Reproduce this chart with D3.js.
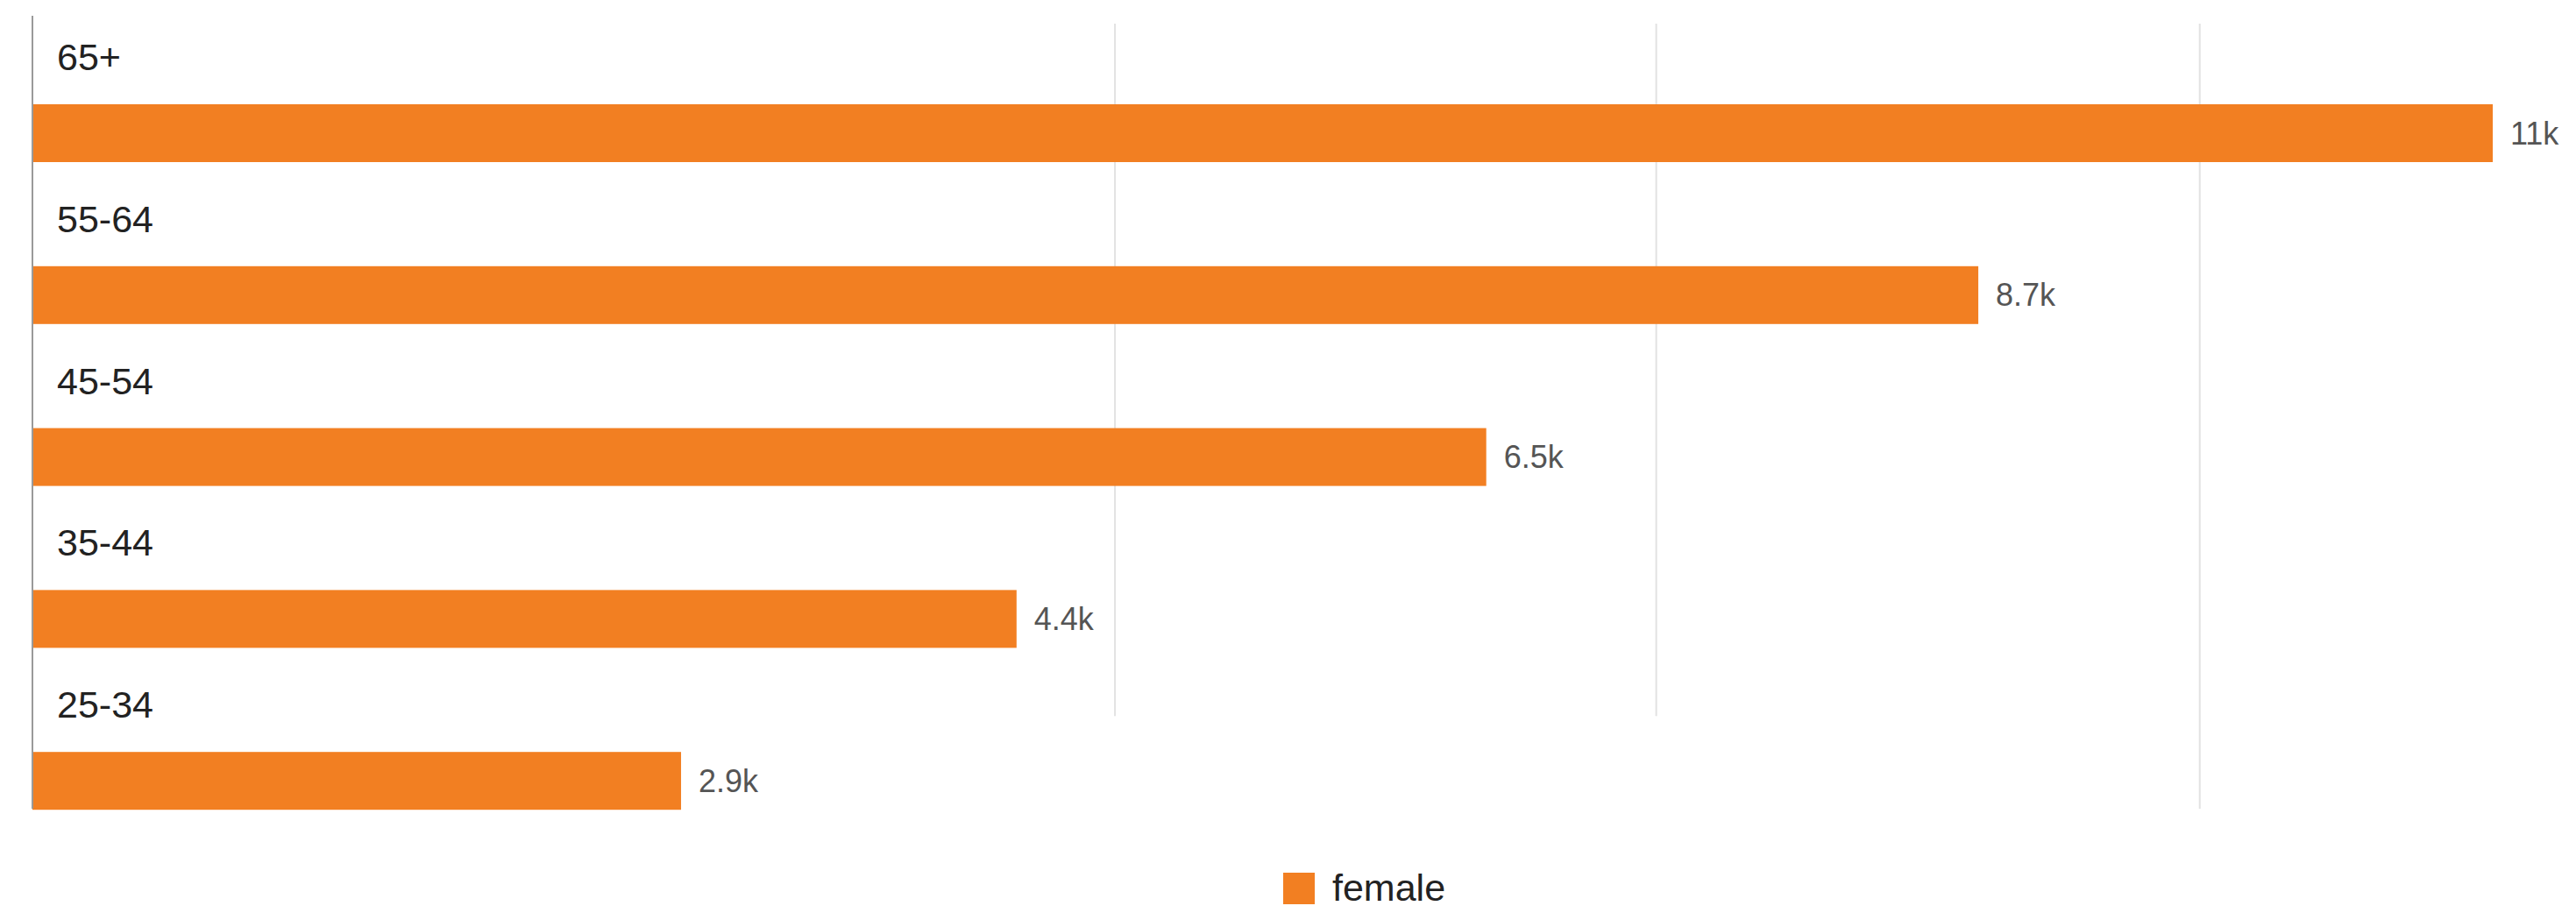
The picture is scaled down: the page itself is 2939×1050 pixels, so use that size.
<!DOCTYPE html>
<html>
<head>
<meta charset="utf-8">
<script src="https://cdn.jsdelivr.net/npm/d3@7"></script>
<style>
  html, body { margin: 0; padding: 0; background: #ffffff; }
  svg { display: block; font-family: "Liberation Sans", Arial, sans-serif; }
</style>
</head>
<body>
<svg id="chart" width="2939" height="1050"></svg>
<script>
// Age groups, top to bottom
const categories = ["65+", "55-64", "45-54", "35-44", "25-34"];
// Female counts per age group
const femaleValues = [11000, 8700, 6500, 4400, 2900];
// Vertical gridline positions on the value axis
const gridValues = [4840, 7260, 9690];
const seriesName = "female";

const barColor = "#f27f22";
const svg = d3.select("#chart");

const x = d3.scaleLinear().domain([0, 11000]).range([37, 2844]);
const y = d3.scaleBand().domain(categories).range([34, 958]).padding(0);

const barOffset = 85, barHeight = 66, labelOffset = 46;
const plotTop = 18, plotBottom = 923, gridTop = 27;

// gridlines
svg.append("g").selectAll("line")
  .data(gridValues)
  .join("line")
  .attr("x1", d => x(d)).attr("x2", d => x(d))
  .attr("y1", gridTop)
  .attr("y2", (d, i) => i === gridValues.length - 1 ? plotBottom : y(categories[categories.length - 1]) + labelOffset - 2)
  .attr("stroke", "#e2e2e2")
  .attr("stroke-width", 2);

// bars
const rows = categories.map((c, i) => ({ cat: c, value: femaleValues[i] }));
svg.append("g").selectAll("rect")
  .data(rows)
  .join("rect")
  .attr("x", x(0))
  .attr("y", d => y(d.cat) + barOffset)
  .attr("width", d => x(d.value) - x(0))
  .attr("height", barHeight)
  .attr("fill", barColor);

// baseline axis
svg.append("line")
  .attr("x1", x(0)).attr("x2", x(0))
  .attr("y1", plotTop).attr("y2", plotBottom)
  .attr("stroke", "#9a9a9a")
  .attr("stroke-width", 2);

// category labels above each bar
svg.append("g").selectAll("text")
  .data(rows)
  .join("text")
  .attr("x", 65)
  .attr("y", d => y(d.cat) + labelOffset)
  .attr("font-size", 43)
  .attr("fill", "#222")
  .text(d => d.cat);

// value labels at bar ends
const fmt = d3.format(".2s");
svg.append("g").selectAll("text")
  .data(rows)
  .join("text")
  .attr("x", d => x(d.value) + 20)
  .attr("y", d => y(d.cat) + barOffset + barHeight / 2)
  .attr("dominant-baseline", "central")
  .attr("font-size", 36)
  .attr("fill", "#555")
  .text(d => fmt(d.value));

// legend
const legend = svg.append("g").attr("transform", "translate(1464, 996)");
legend.append("rect")
  .attr("width", 36).attr("height", 36)
  .attr("fill", barColor);
legend.append("text")
  .attr("x", 56).attr("y", 32)
  .attr("font-size", 43)
  .attr("fill", "#222")
  .text(seriesName);
</script>
</body>
</html>
